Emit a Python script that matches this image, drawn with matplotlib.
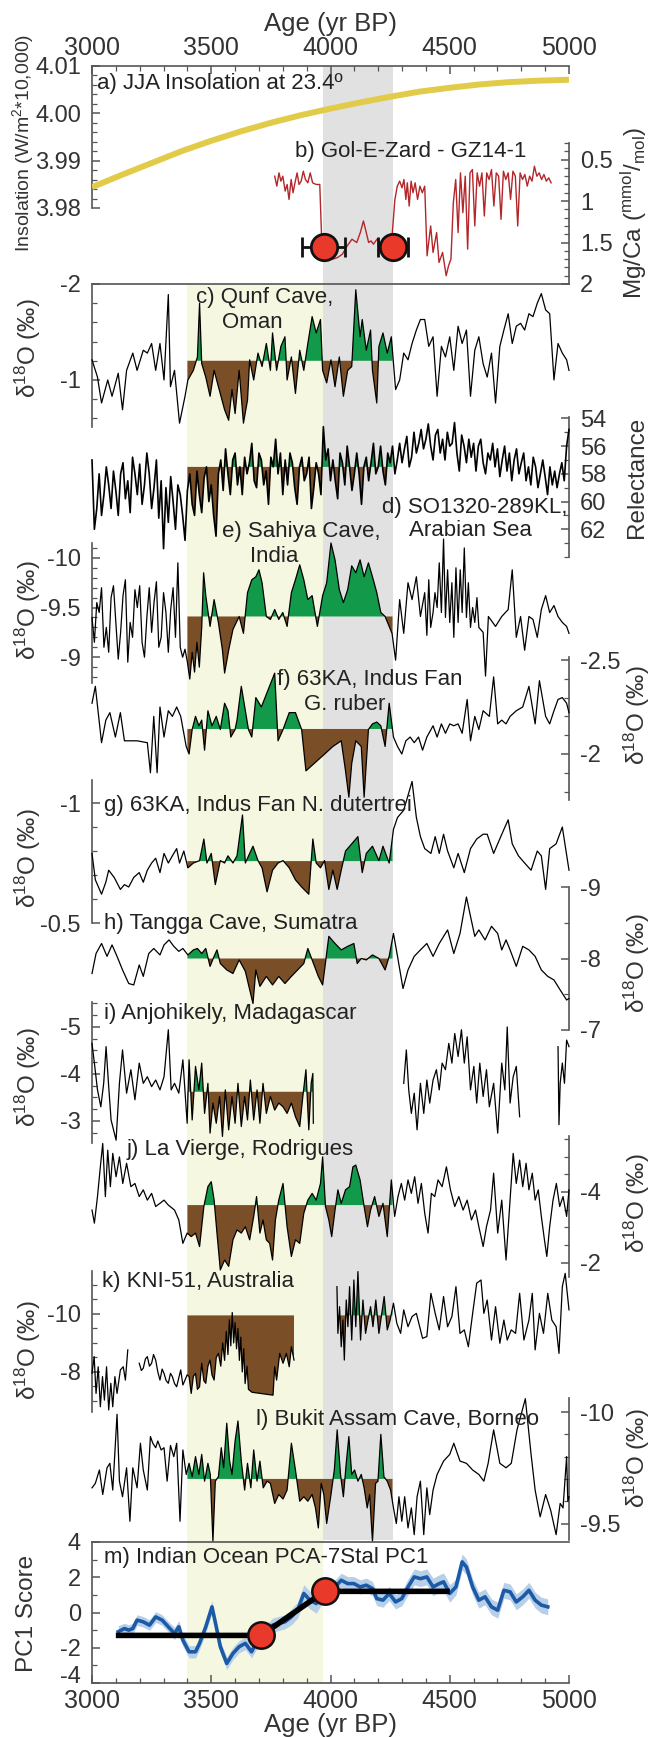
import numpy as np
import matplotlib
matplotlib.use("Agg")
import matplotlib.pyplot as plt
import matplotlib.transforms as mtransforms

plt.rcParams.update({
    "font.family": ["Liberation Sans", "DejaVu Sans"],
    "mathtext.fontset": "custom",
    "mathtext.rm": "Liberation Sans",
    "mathtext.it": "Liberation Sans:italic",
    "mathtext.bf": "Liberation Sans:bold",
    "axes.unicode_minus": False,
})

# ---------------------------------------------------------------- data
insolation = [(3000, 3.9844), (3125, 3.9870), (3250, 3.9895), (3375, 3.9920), (3500, 3.9942),
              (3625, 3.9962), (3750, 3.9980), (3875, 3.9996), (4000, 4.0010), (4125, 4.0023),
              (4250, 4.0035), (4375, 4.0046), (4500, 4.0054), (4625, 4.0061), (4750, 4.0066),
              (4875, 4.0069), (5000, 4.0071)]

mgca = [(3766, 0.70), (3775, 0.82), (3784, 0.66), (3792, 0.76), (3800, 0.70), (3810, 0.88), (3818, 0.80),
        (3826, 0.98), (3835, 0.74), (3843, 0.90), (3851, 0.78), (3860, 0.66), (3868, 0.80), (3877, 0.76),
        (3886, 0.64), (3895, 0.74), (3905, 0.78), (3915, 0.66), (3925, 0.78), (3940, 0.80), (3955, 0.80),
        (3962, 1.38), (3968, 1.54), (3978, 1.68), (3990, 1.70), (4010, 1.70), (4030, 1.68), (4050, 1.64),
        (4070, 1.54), (4090, 1.46), (4110, 1.50), (4125, 1.38), (4138, 1.24), (4150, 1.38), (4160, 1.50),
        (4170, 1.48), (4180, 1.52), (4195, 1.46), (4210, 1.52), (4230, 1.50), (4255, 1.54), (4270, 0.98),
        (4280, 0.82), (4290, 0.76), (4300, 0.84), (4308, 0.74), (4316, 0.98), (4322, 0.78), (4330, 1.06),
        (4338, 0.76), (4346, 0.90), (4355, 0.78), (4365, 0.98), (4375, 0.82), (4385, 0.90), (4395, 0.82),
        (4405, 1.66), (4420, 1.30), (4430, 1.62), (4445, 1.38), (4455, 1.74), (4470, 1.62), (4485, 1.90),
        (4495, 1.78), (4505, 1.70), (4515, 1.02), (4525, 0.74), (4535, 1.38), (4545, 0.66), (4555, 1.14),
        (4565, 0.70), (4575, 1.58), (4585, 0.66), (4595, 0.62), (4605, 1.30), (4615, 0.66), (4625, 0.82),
        (4635, 0.66), (4645, 1.18), (4655, 0.66), (4665, 0.74), (4675, 0.62), (4685, 1.06), (4695, 0.66),
        (4705, 0.70), (4715, 1.22), (4725, 0.64), (4735, 0.74), (4745, 0.66), (4755, 0.98), (4765, 0.64),
        (4775, 0.70), (4785, 1.30), (4795, 0.66), (4805, 0.74), (4815, 0.68), (4825, 0.82), (4835, 0.70),
        (4845, 0.76), (4855, 0.58), (4865, 0.70), (4875, 0.66), (4885, 0.74), (4895, 0.68), (4905, 0.76),
        (4915, 0.72), (4925, 0.78)]
mgca_dates = [3971, 4262]
mgca_date_y = [1.55, 1.55]
mgca_date_err = [90, 63]

qunf = [(3000, -1.21), (3023, -1.03), (3040, -0.76), (3066, -1.00), (3084, -0.83), (3110, -1.07), (3128, -0.69),
        (3145, -1.10), (3171, -1.28), (3189, -1.10), (3215, -1.31), (3232, -1.28), (3250, -1.38), (3267, -1.10),
        (3285, -1.38), (3302, -1.00), (3320, -1.89), (3329, -0.93), (3346, -1.10), (3367, -0.55), (3390, -0.83),
        (3402, -1.00), (3425, -1.10), (3442, -1.24), (3451, -1.80), (3460, -1.17), (3477, -1.03), (3495, -0.83),
        (3512, -1.10), (3530, -0.93), (3556, -0.69), (3573, -0.58), (3587, -0.90), (3600, -0.65), (3617, -1.10),
        (3635, -0.55), (3652, -0.79), (3661, -1.21), (3678, -1.00), (3696, -1.28), (3713, -1.14), (3731, -1.38),
        (3748, -1.10), (3757, -1.49), (3774, -1.10), (3792, -1.35), (3809, -1.45), (3818, -1.00), (3836, -1.24),
        (3853, -0.86), (3871, -1.31), (3888, -1.10), (3905, -1.38), (3923, -1.66), (3940, -1.49), (3958, -1.63),
        (3967, -1.10), (3984, -0.97), (4002, -1.21), (4019, -0.93), (4037, -1.24), (4054, -0.83), (4072, -1.10),
        (4089, -1.14), (4106, -1.94), (4124, -1.45), (4133, -1.63), (4150, -1.31), (4168, -1.52), (4176, -1.10),
        (4194, -0.76), (4203, -1.35), (4220, -1.49), (4238, -1.28), (4255, -1.45), (4273, -0.90), (4290, -1.00),
        (4307, -1.28), (4325, -1.21), (4342, -1.38), (4360, -1.52), (4377, -1.63), (4395, -1.63), (4412, -1.35),
        (4430, -1.45), (4447, -0.83), (4465, -1.35), (4482, -1.24), (4500, -1.45), (4517, -1.10), (4535, -1.56),
        (4552, -1.38), (4570, -1.52), (4587, -0.83), (4605, -1.31), (4622, -1.45), (4640, -1.17), (4657, -1.03),
        (4675, -1.28), (4692, -0.76), (4710, -1.35), (4727, -1.52), (4745, -1.69), (4762, -1.38), (4779, -1.56),
        (4797, -1.59), (4814, -1.52), (4832, -1.69), (4849, -1.66), (4867, -1.80), (4884, -1.90), (4902, -1.73),
        (4919, -1.69), (4937, -1.00), (4954, -1.38), (4972, -1.28), (4990, -1.21), (5000, -1.10)]

# SO130-289KL reflectance, read every 10 yr from 3000 yr BP
refl_start, refl_step = 3000, 10
refl = [57.0, 62.0, 60.5, 58.0, 61.0, 59.5, 57.5, 58.8, 60.5, 57.8, 59.2,
        61.0, 58.0, 57.2, 59.8, 58.5, 60.8, 56.8, 58.0, 59.5, 57.3,
        60.2, 58.8, 56.5, 58.0, 60.5, 59.0, 57.0, 61.2, 58.5, 63.4,
        59.0, 61.5, 58.2, 60.0, 62.0, 58.8, 59.5, 61.0, 62.8, 59.2,
        58.0, 60.2, 61.0, 57.8, 59.5, 60.8, 58.3, 57.5, 60.0, 58.8,
        61.0, 62.5, 58.0, 57.0, 59.2, 56.2, 58.0, 59.5, 57.0, 56.5,
        58.8, 57.5, 59.5, 56.8, 58.0, 57.2, 55.8, 58.5, 59.0, 56.5,
        57.0, 58.8, 57.8, 60.2, 56.8, 57.5, 55.5, 58.0, 56.5, 59.5,
        57.0, 58.8, 56.5, 57.2, 59.0, 60.2, 57.5, 56.8, 58.5, 58.0,
        56.8, 60.5, 59.0, 57.2, 58.0, 59.5, 54.6, 57.0, 56.2, 58.5,
        57.0, 58.5, 59.8, 56.5, 57.2, 58.8, 56.0, 57.5, 59.2, 58.0,
        56.5, 58.0, 60.2, 57.5, 56.8, 58.5, 57.2, 55.8, 58.0, 57.5,
        56.0, 57.8, 58.8, 56.5, 57.2, 56.0, 58.0, 57.0, 55.8, 57.2,
        56.2, 55.3, 57.5, 56.8, 55.0, 56.5, 55.8, 54.8, 56.2, 55.5,
        54.4, 56.0, 57.0, 55.2, 54.8, 56.5, 55.5, 57.0, 55.0, 56.0,
        55.8, 54.3, 56.5, 57.8, 55.2, 56.0, 57.2, 55.5, 56.8, 55.8,
        57.8, 56.0, 55.5, 57.2, 58.0, 56.5, 57.0, 55.8, 57.5, 56.2,
        58.2, 57.0, 56.0, 57.8, 56.5, 58.5, 57.0, 56.2, 58.0, 57.2,
        56.5, 58.5, 57.5, 58.8, 56.8, 57.5, 59.0, 58.0, 57.0, 58.2,
        59.5, 57.5, 58.8, 57.8, 59.0, 58.0, 57.2, 58.5, 56.0, 54.8]

sahiya = [(3000, -9.40), (3010, -9.15), (3020, -9.55), (3030, -9.45), (3040, -9.70), (3050, -9.10), (3060, -9.30),
          (3070, -9.05), (3080, -9.60), (3090, -9.72), (3100, -9.35), (3110, -8.98), (3120, -9.25), (3130, -9.62),
          (3140, -9.78), (3150, -8.95), (3160, -9.35), (3170, -9.20), (3180, -9.68), (3190, -9.50), (3200, -9.72),
          (3210, -9.15), (3220, -9.00), (3230, -9.40), (3240, -9.70), (3250, -9.25), (3260, -9.55), (3270, -9.76),
          (3280, -9.10), (3290, -9.20), (3300, -9.65), (3310, -9.45), (3320, -9.05), (3330, -9.48), (3340, -9.70),
          (3350, -9.20), (3360, -9.95), (3370, -9.10), (3380, -9.00), (3390, -9.08), (3400, -8.95), (3410, -8.78),
          (3420, -9.05), (3430, -8.85), (3440, -9.15), (3450, -8.90), (3460, -9.30), (3468, -9.85), (3477, -9.62),
          (3495, -9.31), (3512, -9.58), (3530, -9.35), (3547, -9.07), (3556, -8.84), (3573, -9.07), (3591, -9.28),
          (3617, -9.41), (3635, -9.24), (3652, -9.65), (3670, -9.78), (3687, -9.81), (3700, -9.88), (3713, -9.75),
          (3731, -9.41), (3748, -9.38), (3766, -9.48), (3783, -9.38), (3800, -9.45), (3818, -9.31), (3836, -9.65),
          (3853, -9.78), (3871, -9.93), (3888, -9.78), (3905, -9.58), (3923, -9.62), (3945, -9.31), (3967, -9.62),
          (3984, -9.75), (4002, -10.15), (4019, -9.98), (4037, -9.68), (4054, -9.55), (4072, -9.68), (4089, -9.92),
          (4106, -9.85), (4124, -9.98), (4141, -9.81), (4159, -9.95), (4176, -9.81), (4194, -9.65), (4211, -9.45),
          (4229, -9.41), (4246, -9.31), (4258, -9.24), (4273, -8.97), (4290, -9.58), (4307, -9.24), (4325, -9.75),
          (4342, -9.58), (4360, -9.81), (4377, -9.41), (4395, -9.65), (4404, -9.22), (4412, -9.78), (4420, -9.30),
          (4430, -9.45), (4438, -9.65), (4447, -9.50), (4456, -9.95), (4465, -9.45), (4474, -10.19), (4482, -9.40),
          (4491, -9.88), (4500, -9.35), (4509, -9.75), (4517, -9.20), (4526, -9.90), (4535, -9.35), (4544, -9.88),
          (4552, -9.45), (4561, -10.10), (4570, -9.40), (4578, -9.75), (4587, -9.30), (4596, -9.50), (4605, -9.35),
          (4614, -9.60), (4622, -9.30), (4640, -9.25), (4650, -8.81), (4662, -9.41), (4692, -9.31), (4718, -9.41),
          (4745, -9.48), (4762, -9.88), (4779, -9.20), (4797, -9.41), (4814, -9.07), (4832, -9.41), (4849, -9.38),
          (4867, -9.20), (4884, -9.48), (4902, -9.62), (4919, -9.45), (4937, -9.52), (4954, -9.41), (4972, -9.35),
          (4990, -9.31), (5000, -9.24)]

ruber = [(3000, -2.27), (3014, -2.36), (3040, -2.06), (3058, -2.18), (3075, -2.22), (3098, -2.09), (3119, -2.22),
         (3136, -2.07), (3189, -2.07), (3232, -2.06), (3245, -1.90), (3259, -2.20), (3273, -1.90), (3285, -2.25),
         (3302, -2.09), (3320, -2.23), (3337, -2.20), (3355, -2.25), (3372, -2.20), (3395, -2.04), (3407, -2.00),
         (3420, -2.13), (3434, -2.20), (3448, -2.15), (3460, -2.18), (3472, -2.02), (3486, -2.23), (3503, -2.15),
         (3521, -2.20), (3538, -2.13), (3556, -2.27), (3570, -2.23), (3582, -2.09), (3600, -2.13), (3608, -2.18),
         (3626, -2.36), (3643, -2.23), (3656, -2.13), (3670, -2.09), (3687, -2.30), (3710, -2.25), (3766, -2.43),
         (3780, -2.07), (3801, -2.13), (3827, -2.22), (3853, -2.22), (3879, -2.13), (3897, -1.91), (3967, -1.99),
         (4010, -2.04), (4045, -2.07), (4063, -1.91), (4077, -1.77), (4089, -1.95), (4106, -2.07), (4129, -2.04),
         (4141, -1.77), (4159, -2.13), (4176, -2.16), (4194, -2.17), (4211, -2.15), (4229, -2.04), (4246, -2.27),
         (4264, -2.09), (4281, -2.04), (4299, -2.00), (4316, -2.07), (4334, -2.09), (4351, -2.06), (4369, -2.09),
         (4386, -2.02), (4404, -2.09), (4430, -2.15), (4447, -2.09), (4465, -2.16), (4482, -2.11), (4500, -2.16),
         (4517, -2.15), (4535, -2.16), (4552, -2.11), (4573, -2.29), (4587, -2.07), (4605, -2.20), (4622, -2.13),
         (4640, -2.23), (4666, -2.20), (4684, -2.41), (4701, -2.16), (4718, -2.18), (4736, -2.16), (4753, -2.20),
         (4779, -2.23), (4806, -2.25), (4832, -2.36), (4858, -2.16), (4876, -2.39), (4902, -2.20), (4919, -2.16),
         (4937, -2.23), (4954, -2.29), (4972, -2.30), (4990, -2.27), (5000, -2.22)]

dutertrei = [(3000, -0.79), (3014, -0.68), (3040, -0.62), (3058, -0.67), (3070, -0.72), (3093, -0.69), (3119, -0.64),
             (3136, -0.66), (3154, -0.65), (3175, -0.69), (3198, -0.71), (3215, -0.67), (3232, -0.72), (3250, -0.75),
             (3267, -0.77), (3285, -0.71), (3302, -0.79), (3320, -0.75), (3337, -0.78), (3355, -0.81), (3367, -0.75),
             (3385, -0.80), (3402, -0.73), (3425, -0.75), (3451, -0.76), (3469, -0.85), (3482, -0.75), (3500, -0.79),
             (3517, -0.66), (3538, -0.76), (3556, -0.75), (3570, -0.78), (3591, -0.75), (3608, -0.78), (3631, -0.95),
             (3643, -0.75), (3661, -0.79), (3675, -0.82), (3696, -0.76), (3713, -0.73), (3734, -0.63), (3757, -0.72),
             (3780, -0.75), (3801, -0.76), (3827, -0.73), (3853, -0.68), (3879, -0.65), (3909, -0.62), (3926, -0.85),
             (3940, -0.75), (3958, -0.73), (3975, -0.76), (3993, -0.64), (4010, -0.72), (4028, -0.64), (4045, -0.72),
             (4063, -0.80), (4089, -0.83), (4115, -0.86), (4133, -0.71), (4150, -0.79), (4176, -0.82), (4203, -0.76),
             (4220, -0.82), (4246, -0.75), (4264, -0.89), (4281, -0.94), (4307, -0.97), (4342, -1.09), (4360, -0.94),
             (4377, -0.86), (4395, -0.81), (4421, -0.79), (4439, -0.86), (4456, -0.79), (4474, -0.87), (4491, -0.80),
             (4517, -0.73), (4535, -0.79), (4561, -0.71), (4587, -0.81), (4613, -0.85), (4640, -0.87), (4657, -0.87),
             (4684, -0.79), (4701, -0.83), (4727, -0.89), (4745, -0.93), (4762, -0.83), (4788, -0.78), (4814, -0.75),
             (4841, -0.72), (4867, -0.80), (4884, -0.78), (4902, -0.64), (4919, -0.81), (4946, -0.83), (4972, -0.90),
             (5000, -0.72)]

tangga = [(3000, -7.79), (3017, -8.07), (3040, -8.21), (3063, -8.03), (3084, -8.19), (3105, -8.03), (3128, -7.84),
          (3154, -7.65), (3175, -7.63), (3198, -7.91), (3215, -7.75), (3238, -8.07), (3259, -8.14), (3285, -8.05),
          (3302, -8.19), (3323, -8.26), (3343, -8.17), (3364, -8.10), (3381, -8.14), (3402, -8.05), (3425, -8.12),
          (3442, -8.14), (3460, -8.07), (3477, -8.14), (3495, -7.89), (3512, -8.03), (3524, -8.12), (3538, -7.93),
          (3565, -7.84), (3591, -7.79), (3617, -7.98), (3643, -7.82), (3675, -7.37), (3687, -7.84), (3704, -7.61),
          (3731, -7.75), (3757, -7.63), (3783, -7.75), (3809, -7.65), (3836, -7.75), (3862, -7.84), (3888, -7.93),
          (3905, -8.14), (3923, -7.98), (3949, -7.75), (3967, -7.63), (3993, -8.31), (4019, -8.21), (4045, -8.12),
          (4072, -8.17), (4098, -8.21), (4112, -7.93), (4129, -8.00), (4150, -7.98), (4176, -8.05), (4203, -8.00),
          (4229, -7.84), (4246, -8.03), (4264, -8.35), (4281, -8.03), (4304, -7.58), (4325, -7.84), (4351, -8.03),
          (4377, -8.12), (4404, -8.21), (4430, -8.03), (4456, -8.21), (4491, -8.40), (4517, -8.07), (4543, -8.35),
          (4570, -8.86), (4587, -8.59), (4605, -8.31), (4622, -8.40), (4648, -8.26), (4675, -8.45), (4701, -8.35),
          (4718, -8.12), (4736, -8.26), (4753, -8.12), (4779, -7.89), (4806, -8.17), (4832, -8.12), (4858, -8.03),
          (4884, -7.84), (4911, -7.75), (4937, -7.70), (4963, -7.56), (4990, -7.42), (5000, -7.44)]

anjo_1 = [(3000, -4.65), (3010, -4.23), (3023, -3.66), (3037, -3.30), (3049, -3.80), (3059, -4.58), (3070, -3.73),
          (3080, -3.02), (3101, -2.59), (3115, -3.80), (3128, -4.51), (3145, -3.59), (3163, -4.09), (3180, -3.45),
          (3198, -4.23), (3215, -3.80), (3232, -3.94), (3250, -3.73), (3267, -3.87), (3285, -3.66), (3302, -3.94),
          (3320, -4.94), (3332, -3.66), (3346, -3.80), (3364, -3.59), (3381, -4.30), (3399, -2.95), (3407, -4.30),
          (3420, -3.02), (3434, -4.16), (3448, -3.66), (3460, -4.23), (3472, -3.16), (3486, -3.80), (3495, -2.74),
          (3507, -3.38), (3521, -2.95), (3535, -3.52), (3547, -2.67), (3559, -3.66), (3573, -2.81), (3587, -3.52),
          (3600, -2.95), (3612, -3.80), (3626, -2.88), (3640, -3.52), (3652, -3.02), (3664, -3.87), (3678, -3.02),
          (3692, -3.66), (3704, -2.95), (3717, -3.80), (3731, -3.16), (3748, -3.52), (3766, -3.23), (3783, -3.38),
          (3801, -3.30), (3818, -3.16), (3836, -3.38), (3853, -3.09), (3871, -2.88), (3884, -3.52), (3897, -4.09),
          (3909, -2.81), (3919, -3.80), (3926, -4.01), (3928, -2.95)]
anjo_2 = [(4307, -3.80), (4318, -4.51), (4328, -3.66), (4339, -3.16), (4351, -3.59), (4363, -2.81), (4377, -3.80),
          (4391, -3.16), (4404, -3.87), (4416, -3.38), (4430, -3.87), (4444, -4.09), (4456, -3.66), (4468, -4.23),
          (4482, -4.09), (4496, -4.65), (4509, -4.23), (4521, -4.86), (4535, -4.37), (4549, -4.94), (4561, -4.23),
          (4573, -4.79), (4587, -3.66), (4601, -4.16), (4613, -3.38), (4626, -4.23), (4640, -3.52), (4654, -4.09),
          (4666, -3.30), (4684, -3.80), (4701, -2.74), (4718, -4.23), (4731, -3.66), (4741, -5.00), (4753, -3.38),
          (4766, -3.94), (4779, -4.16), (4793, -3.09)]
anjo_3 = [(4954, -4.58), (4958, -2.92), (4963, -3.80), (4972, -4.23), (4981, -3.80), (4990, -4.72), (5000, -4.58)]

vierge = [(3000, -3.49), (3010, -3.12), (3023, -3.87), (3035, -4.71), (3045, -5.37), (3056, -3.87), (3066, -5.18),
          (3077, -4.15), (3087, -5.09), (3101, -4.43), (3115, -4.99), (3129, -4.24), (3145, -4.81), (3163, -4.15),
          (3180, -4.24), (3198, -3.87), (3215, -4.06), (3232, -3.77), (3250, -3.96), (3267, -3.59), (3285, -3.68),
          (3302, -3.77), (3320, -3.63), (3346, -3.49), (3364, -3.21), (3381, -2.55), (3399, -2.84), (3416, -2.74),
          (3434, -2.84), (3451, -2.46), (3469, -3.59), (3486, -4.15), (3500, -4.29), (3512, -3.77), (3524, -2.84),
          (3538, -1.80), (3556, -2.08), (3573, -1.90), (3591, -2.65), (3608, -2.93), (3626, -2.84), (3643, -3.02),
          (3661, -2.65), (3678, -3.31), (3690, -3.87), (3704, -2.84), (3717, -3.21), (3731, -2.65), (3745, -2.55),
          (3757, -2.08), (3769, -3.21), (3783, -3.77), (3801, -4.24), (3818, -3.02), (3836, -2.18), (3853, -2.65),
          (3871, -2.55), (3888, -3.40), (3905, -3.77), (3923, -3.96), (3940, -3.77), (3958, -4.24), (3967, -4.99),
          (3979, -3.59), (3993, -3.21), (4005, -2.74), (4019, -3.49), (4031, -4.06), (4045, -3.68), (4063, -4.06),
          (4080, -4.15), (4094, -4.71), (4106, -4.76), (4124, -4.34), (4141, -3.59), (4155, -3.02), (4168, -3.49),
          (4185, -3.87), (4203, -3.31), (4220, -3.68), (4238, -2.74), (4255, -4.34), (4269, -3.31), (4283, -3.87),
          (4297, -4.24), (4311, -3.77), (4325, -4.34), (4339, -3.96), (4353, -4.43), (4367, -3.68), (4381, -4.24),
          (4395, -3.40), (4409, -2.84), (4423, -3.96), (4437, -3.87), (4451, -4.34), (4468, -4.15), (4486, -4.71),
          (4503, -4.06), (4521, -3.59), (4538, -3.87), (4556, -3.49), (4573, -3.77), (4591, -3.21), (4608, -3.49),
          (4622, -3.02), (4640, -2.46), (4654, -3.02), (4671, -3.49), (4684, -4.53), (4701, -2.84), (4718, -3.77),
          (4736, -2.08), (4753, -3.77), (4766, -5.09), (4779, -4.24), (4793, -4.90), (4806, -4.15), (4820, -4.81),
          (4832, -4.06), (4846, -4.53), (4858, -3.77), (4871, -4.06), (4884, -3.31), (4897, -2.65), (4907, -2.18),
          (4919, -3.02), (4933, -3.77), (4947, -4.24), (4961, -3.59), (4975, -3.87), (4990, -3.31), (5000, -4.06)]

kni_1 = [(3000, -7.95), (3009, -8.53), (3017, -7.26), (3026, -8.18), (3035, -6.80), (3044, -7.84), (3052, -7.03),
         (3061, -8.18), (3070, -6.69), (3079, -7.61), (3087, -6.80), (3096, -7.84), (3105, -7.26), (3119, -8.07),
         (3131, -8.18), (3140, -7.72), (3150, -8.76)]
kni_2 = [(3198, -8.30), (3207, -8.05), (3215, -8.13), (3224, -8.45), (3232, -8.53), (3241, -8.20), (3250, -8.30),
         (3258, -8.60), (3267, -8.41), (3276, -8.00), (3285, -7.72), (3294, -8.10), (3302, -7.95), (3311, -7.70),
         (3320, -7.61), (3329, -7.95), (3337, -7.84), (3346, -7.60), (3355, -7.49), (3364, -7.80), (3372, -8.07),
         (3381, -7.55), (3390, -7.72), (3399, -7.90), (3407, -7.84), (3416, -7.26), (3425, -7.85), (3434, -7.95),
         (3442, -7.40), (3451, -7.49), (3460, -8.30), (3469, -7.70), (3477, -7.61), (3486, -8.20), (3495, -8.41),
         (3503, -7.90), (3512, -7.72), (3521, -8.50), (3530, -8.64), (3540, -8.20), (3548, -9.00), (3556, -8.40),
         (3563, -9.40), (3570, -8.60), (3576, -9.80), (3582, -8.90), (3588, -10.05), (3594, -9.00), (3600, -9.70),
         (3606, -8.80), (3612, -9.50), (3618, -8.40), (3624, -9.20), (3630, -8.00), (3636, -8.80), (3642, -7.60),
         (3650, -8.20), (3656, -7.40), (3671, -7.30), (3759, -7.20), (3766, -8.18), (3774, -7.72), (3787, -8.64),
         (3801, -8.30), (3815, -8.64), (3827, -8.18), (3836, -8.87), (3847, -8.41)]
kni_3 = [(4027, -10.94), (4031, -9.33), (4038, -10.25), (4045, -8.87), (4052, -9.79), (4058, -8.41), (4066, -10.48),
         (4073, -9.56), (4080, -10.94), (4089, -9.10), (4098, -11.17), (4106, -9.56), (4115, -11.46), (4126, -9.10),
         (4136, -10.48), (4147, -9.33), (4157, -9.79), (4168, -10.25), (4178, -9.56), (4190, -10.48), (4203, -9.33),
         (4215, -10.02), (4225, -10.60), (4238, -9.45), (4250, -9.79), (4264, -10.37), (4278, -9.68), (4294, -9.33),
         (4307, -10.14), (4325, -9.56), (4342, -9.91), (4360, -10.02), (4386, -9.16), (4404, -9.22), (4421, -10.71),
         (4439, -10.02), (4456, -9.45), (4474, -10.60), (4491, -9.56), (4509, -9.91), (4526, -10.94), (4543, -9.33),
         (4561, -9.45), (4578, -8.87), (4596, -10.02), (4613, -11.06), (4631, -11.17), (4643, -10.02), (4657, -10.48),
         (4675, -9.10), (4692, -10.25), (4710, -8.99), (4727, -9.79), (4741, -9.10), (4758, -9.45), (4776, -9.33),
         (4793, -10.71), (4811, -9.10), (4832, -9.79), (4846, -10.71), (4858, -8.76), (4876, -10.02), (4893, -9.33),
         (4911, -10.71), (4928, -9.79), (4946, -9.56), (4958, -8.64), (4972, -10.94), (4984, -11.40), (5000, -10.14)]

bukit = [(3000, -9.66), (3014, -9.68), (3031, -9.74), (3045, -9.63), (3063, -9.75), (3075, -9.77), (3087, -9.65),
         (3105, -9.99), (3115, -9.69), (3128, -9.62), (3145, -9.75), (3159, -9.51), (3171, -9.75), (3189, -9.66),
         (3203, -9.86), (3215, -9.74), (3232, -9.65), (3245, -9.89), (3255, -9.86), (3267, -9.84), (3276, -9.87),
         (3290, -9.83), (3302, -9.84), (3315, -9.69), (3329, -9.85), (3343, -9.80), (3355, -9.86), (3369, -9.51),
         (3381, -9.83), (3395, -9.72), (3407, -9.77), (3420, -9.71), (3434, -9.80), (3448, -9.72), (3460, -9.81),
         (3472, -9.69), (3486, -9.77), (3496, -9.72), (3507, -9.42), (3517, -9.69), (3530, -9.71), (3542, -9.84),
         (3552, -9.75), (3565, -9.95), (3577, -9.78), (3587, -9.72), (3600, -9.87), (3612, -9.96), (3626, -9.78),
         (3640, -9.65), (3652, -9.77), (3666, -9.66), (3678, -9.83), (3692, -9.69), (3704, -9.78), (3718, -9.66),
         (3734, -9.69), (3748, -9.68), (3766, -9.59), (3783, -9.63), (3801, -9.61), (3818, -9.65), (3836, -9.86),
         (3853, -9.74), (3871, -9.60), (3888, -9.62), (3905, -9.60), (3923, -9.63), (3937, -9.57), (3949, -9.48),
         (3961, -9.68), (3972, -9.63), (3984, -9.50), (4002, -9.63), (4016, -9.74), (4028, -9.92), (4042, -9.72),
         (4054, -9.62), (4066, -9.77), (4077, -9.89), (4089, -9.72), (4101, -9.74), (4115, -9.69), (4129, -9.72),
         (4141, -9.66), (4154, -9.57), (4164, -9.63), (4176, -9.42), (4189, -9.68), (4199, -9.69), (4211, -9.90),
         (4224, -9.71), (4238, -9.69), (4252, -9.65), (4264, -9.57), (4276, -9.50), (4287, -9.62), (4299, -9.51),
         (4311, -9.62), (4325, -9.48), (4339, -9.57), (4351, -9.45), (4363, -9.62), (4377, -9.69), (4391, -9.45),
         (4404, -9.66), (4416, -9.54), (4430, -9.65), (4447, -9.72), (4474, -9.78), (4500, -9.81), (4517, -9.86),
         (4543, -9.78), (4570, -9.77), (4596, -9.74), (4622, -9.72), (4643, -9.69), (4661, -9.77), (4684, -9.92),
         (4710, -9.77), (4736, -9.75), (4758, -9.77), (4782, -9.92), (4817, -10.06), (4841, -9.81), (4858, -9.65),
         (4879, -9.53), (4902, -9.63), (4923, -9.56), (4946, -9.45), (4963, -9.59), (4975, -9.57), (4990, -9.80),
         (4995, -9.60), (5000, -9.62)]

pc1 = [(3110, -1.09, 0.35), (3136, -0.91, 0.3), (3154, -1.00, 0.3), (3171, -0.91, 0.3), (3189, -0.43, 0.3),
       (3215, -0.53, 0.3), (3241, -0.72, 0.3), (3267, -0.25, 0.3), (3294, -0.43, 0.3), (3320, -0.81, 0.3),
       (3346, -1.19, 0.35), (3364, -0.81, 0.35), (3381, -1.57, 0.35), (3407, -2.23, 0.35), (3434, -2.23, 0.35),
       (3451, -1.75, 0.35), (3477, -0.81, 0.35), (3503, 0.32, 0.35), (3521, -0.81, 0.35), (3538, -1.94, 0.35),
       (3565, -2.89, 0.35), (3591, -2.32, 0.35), (3617, -1.94, 0.35), (3643, -1.75, 0.35), (3669, -2.23, 0.35),
       (3687, -1.75, 0.4), (3704, -1.38, 0.4), (3731, -1.09, 0.4), (3757, -0.72, 0.4), (3783, -0.62, 0.4),
       (3809, -0.53, 0.4), (3836, -0.25, 0.45), (3862, 0.13, 0.45), (3888, 1.08, 0.5), (3914, 0.70, 0.5),
       (3940, 0.51, 0.55), (3967, 1.08, 0.5), (3993, 1.55, 0.45), (4019, 1.45, 0.4), (4045, 1.83, 0.4),
       (4072, 1.64, 0.4), (4098, 1.64, 0.4), (4124, 1.45, 0.4), (4150, 1.55, 0.4), (4176, 1.36, 0.4),
       (4194, 0.79, 0.4), (4220, 0.70, 0.4), (4246, 1.08, 0.4), (4273, 0.60, 0.4), (4299, 0.79, 0.4),
       (4325, 1.45, 0.45), (4351, 2.02, 0.45), (4377, 1.92, 0.45), (4404, 2.02, 0.45), (4430, 1.45, 0.5),
       (4456, 1.64, 0.5), (4474, 1.74, 0.5), (4500, 1.08, 0.5), (4526, 1.45, 0.45), (4552, 2.87, 0.45),
       (4570, 2.58, 0.45), (4596, 1.45, 0.45), (4622, 0.70, 0.45), (4648, 0.89, 0.45), (4675, 0.32, 0.45),
       (4701, 0.13, 0.45), (4727, 1.26, 0.45), (4753, 1.17, 0.45), (4779, 0.60, 0.45), (4806, 0.89, 0.45),
       (4832, 1.26, 0.45), (4858, 0.70, 0.45), (4884, 0.42, 0.45), (4911, 0.32, 0.45)]
pc1_trend_age = [3100, 3710, 3975, 4500]
pc1_trend_val = [-1.3, -1.3, 1.2, 1.2]
pc1_break_age = [3710, 3975]
pc1_break_val = [-1.3, 1.2]
pc1_break_err = [45, 45]

# baselines for anomaly shading
base_qunf, base_refl, base_sahiya, base_ruber = -1.20, 57.5, -9.41, -2.133
base_dut, base_tangga, base_anjo, base_vierge = -0.758, -8.0, -3.62, -3.63
base_kni, base_bukit = -9.95, -9.70
event_start, event_mid, event_end = 3400, 3970, 4260

# ---------------------------------------------------------------- styling
W, H, DPI = 653, 1737, 100
X0, X1 = 92, 569
TXT = "#333333"
SP = "#555555"
GREEN = "#12994a"
BROWN = "#7a4e27"
YELLOW = "#f5f7e1"
GRAY = "#e1e1e1"
RED = "#e8392a"
TICK_FS, LAB_FS, PAN_FS = 17, 17.5, 16

fig = plt.figure(figsize=(W / DPI, H / DPI), dpi=DPI)


def rect(top, bottom):
    return [X0 / W, 1 - bottom / H, (X1 - X0) / W, (bottom - top) / H]


def ftext(x, y, s, **kw):
    kw.setdefault("va", "center")
    kw.setdefault("color", "#222222")
    fig.text(x / W, 1 - y / H, s, **kw)


def unzip(pairs):
    a = np.array(pairs, dtype=float)
    return a[:, 0], a[:, 1]


bg = fig.add_axes(rect(66, 1683))
bg.set_xlim(3000, 5000)
bg.set_ylim(0, 1)
bg.axis("off")
bg.axvspan(event_start, event_mid, ymin=0, ymax=(1683 - 284) / (1683 - 66), color=YELLOW, lw=0)
bg.axvspan(event_mid, event_end, ymin=(1683 - 1540) / (1683 - 66), ymax=1, color=GRAY, lw=0)


def panel(top, bottom, ylim, side, ticks, labels, minor_step):
    ax = fig.add_axes(rect(top, bottom))
    ax.set_xlim(3000, 5000)
    ax.set_ylim(*ylim)
    ax.patch.set_visible(False)
    for s in ax.spines.values():
        s.set_visible(False)
    ax.spines[side].set_visible(True)
    ax.spines[side].set_color(SP)
    ax.spines[side].set_linewidth(1.2)
    ax.tick_params(axis="x", which="both", bottom=False, top=False, labelbottom=False, labeltop=False)
    if side == "right":
        ax.yaxis.tick_right()
    else:
        ax.yaxis.tick_left()
    ax.set_yticks(ticks)
    ax.set_yticklabels(labels)
    lo, hi = min(ylim), max(ylim)
    mn = np.arange(np.ceil(lo / minor_step - 1e-6) * minor_step, hi + 1e-9, minor_step)
    ax.set_yticks(mn, minor=True)
    ax.tick_params(axis="y", which="major", direction="in", length=6, width=1.1, color=SP,
                   labelsize=TICK_FS, labelcolor=TXT, pad=8)
    ax.tick_params(axis="y", which="minor", direction="in", length=3.5, width=0.9, color=SP)
    return ax


def anomaly(ax, age, val, base, x0, x1):
    xs_in = (age > x0) & (age < x1)
    xs = np.concatenate([[x0], age[xs_in], [x1]])
    ys = np.concatenate([[np.interp(x0, age, val)], val[xs_in], [np.interp(x1, age, val)]])
    ax.fill_between(xs, ys, base, where=ys <= base, interpolate=True, color=GREEN, lw=0, zorder=2)
    ax.fill_between(xs, ys, base, where=ys >= base, interpolate=True, color=BROWN, lw=0, zorder=2)


def trace(ax, age, val, **kw):
    kw.setdefault("color", "black")
    kw.setdefault("lw", 0.9)
    ax.plot(age, val, zorder=3, clip_on=False, **kw)


# ---- a) insolation
ax = panel(66, 208, (3.98, 4.0096), "left", [3.98, 3.99, 4.00, 4.01], ["3.98", "3.99", "4.00", "4.01"], 0.002)
ax.spines["top"].set_visible(True)
ax.spines["top"].set_color(SP)
ax.spines["top"].set_linewidth(1.2)
ax.xaxis.tick_top()
ax.set_xticks([3000, 3500, 4000, 4500, 5000])
ax.set_xticklabels(["3000", "3500", "4000", "4500", "5000"])
ax.set_xticks(np.arange(3000, 5001, 100), minor=True)
ax.tick_params(axis="x", which="major", top=True, labeltop=True, direction="in", length=6, width=1.1,
               color=SP, labelsize=TICK_FS + 1, labelcolor=TXT, pad=4)
ax.tick_params(axis="x", which="minor", top=True, direction="in", length=3.5, width=0.9, color=SP)
a_x, a_y = unzip(insolation)
ax.plot(a_x, a_y, color="#e2cb48", lw=4.3, solid_capstyle="butt", zorder=3)

# ---- b) Mg/Ca
ax = panel(143, 284, (2.0, 0.3), "right", [0.5, 1, 1.5, 2], ["0.5", "1", "1.5", "2"], 0.1)
ax.spines["bottom"].set_visible(True)
ax.spines["bottom"].set_color(SP)
ax.spines["bottom"].set_linewidth(1.2)
b_x, b_y = unzip(mgca)
trace(ax, b_x, b_y, color="#b3262a", lw=1.0)
ax.errorbar(mgca_dates, mgca_date_y, xerr=mgca_date_err, fmt="o", ms=19, mfc=RED, mec="#111111", mew=2,
            ecolor="#111111", elinewidth=2, capsize=7, capthick=2.5, zorder=5, clip_on=False)

# ---- c) Qunf
ax = panel(284, 427, (-0.51, -2.0), "left", [-2, -1], ["-2", "-1"], 0.2)
c_x, c_y = unzip(qunf)
anomaly(ax, c_x, c_y, base_qunf, event_start, event_end)
trace(ax, c_x, c_y)

# ---- d) reflectance
ax = panel(417, 557, (64.0, 53.9), "right", [54, 56, 58, 60, 62], ["54", "56", "58", "60", "62"], 1)
d_y = np.array(refl, dtype=float)
d_x = refl_start + refl_step * np.arange(len(d_y))
anomaly(ax, d_x, d_y, base_refl, event_start, event_end)
trace(ax, d_x, d_y, lw=1.2)

# ---- e) Sahiya
ax = panel(543, 683, (-8.74, -10.15), "left", [-10, -9.5, -9], ["-10", "-9.5", "-9"], 0.1)
e_x, e_y = unzip(sahiya)
anomaly(ax, e_x, e_y, base_sahiya, event_start, event_end)
trace(ax, e_x, e_y)

# ---- f) G. ruber
ax = panel(657, 800, (-1.755, -2.516), "right", [-2.5, -2], ["-2.5", "-2"], 0.1)
f_x, f_y = unzip(ruber)
anomaly(ax, f_x, f_y, base_ruber, event_start, event_end)
trace(ax, f_x, f_y)

# ---- g) N. dutertrei
ax = panel(780, 923, (-0.5, -1.096), "left", [-1, -0.5], ["-1", "-0.5"], 0.1)
g_x, g_y = unzip(dutertrei)
anomaly(ax, g_x, g_y, base_dut, event_start, event_end)
trace(ax, g_x, g_y)

# ---- h) Tangga
ax = panel(887, 1030, (-7.0, -9.0), "right", [-9, -8, -7], ["-9", "-8", "-7"], 0.5)
h_x, h_y = unzip(tangga)
anomaly(ax, h_x, h_y, base_tangga, event_start, event_end)
trace(ax, h_x, h_y)

# ---- i) Anjohikely
ax = panel(1002, 1143, (-2.53, -5.53), "left", [-5, -4, -3], ["-5", "-4", "-3"], 0.25)
for seg in (anjo_1, anjo_2, anjo_3):
    sx, sy = unzip(seg)
    if sx[0] < event_mid:
        anomaly(ax, sx, sy, base_anjo, event_start, sx[-1])
    trace(ax, sx, sy)

# ---- j) La Vierge
ax = panel(1136, 1277, (-1.6, -5.58), "right", [-4, -2], ["-4", "-2"], 0.5)
j_x, j_y = unzip(vierge)
anomaly(ax, j_x, j_y, base_vierge, event_start, event_end)
trace(ax, j_x, j_y)

# ---- k) KNI-51
ax = panel(1271, 1412, (-6.62, -11.48), "left", [-10, -8], ["-10", "-8"], 0.5)
for seg in (kni_1, kni_2, kni_3):
    sx, sy = unzip(seg)
    if sx[-1] > event_start and sx[0] < event_end:
        anomaly(ax, sx, sy, base_kni, max(event_start, sx[0]), min(event_end, sx[-1]))
    trace(ax, sx, sy)

# ---- l) Bukit Assam
ax = panel(1398, 1540, (-9.426, -10.063), "right", [-10, -9.5], ["-10", "-9.5"], 0.1)
l_x, l_y = unzip(bukit)
anomaly(ax, l_x, l_y, base_bukit, event_start, event_end)
trace(ax, l_x, l_y)

# ---- m) PC1
ax = panel(1542, 1683, (-4, 4), "left", [-4, -2, 0, 2, 4], ["-4", "-2", "0", "2", "4"], 1)
for s in ("top", "bottom"):
    ax.spines[s].set_visible(True)
    ax.spines[s].set_color(SP)
    ax.spines[s].set_linewidth(1.2)
ax.set_xticks([3000, 3500, 4000, 4500, 5000])
ax.set_xticklabels(["3000", "3500", "4000", "4500", "5000"])
ax.set_xticks(np.arange(3000, 5001, 100), minor=True)
ax.tick_params(axis="x", which="major", bottom=True, labelbottom=True, direction="in", length=6, width=1.1,
               color=SP, labelsize=TICK_FS + 1, labelcolor=TXT, pad=4)
ax.tick_params(axis="x", which="minor", bottom=True, direction="in", length=3.5, width=0.9, color=SP)
# lift the lowest y label a little so it clears the "3000" label below it
lift = mtransforms.ScaledTranslation(0, 6 / 72, fig.dpi_scale_trans)
low_lab = ax.get_yticklabels()[0]
low_lab.set_transform(low_lab.get_transform() + lift)
pc = np.array(pc1, dtype=float)
ax.fill_between(pc[:, 0], pc[:, 1] - pc[:, 2], pc[:, 1] + pc[:, 2], color="#b8cfe8", lw=0, zorder=2)
ax.plot(pc[:, 0], pc[:, 1], color="#1b5aa6", lw=2.6, zorder=3)
ax.plot(pc1_trend_age, pc1_trend_val, color="black", lw=4, solid_capstyle="butt", zorder=4)
ax.errorbar(pc1_break_age, pc1_break_val, xerr=pc1_break_err, fmt="o", ms=19, mfc=RED, mec="#111111",
            mew=1.8, ecolor=RED, elinewidth=1.5, capsize=0, zorder=5)

# ---------------------------------------------------------------- text
ftext(330, 24, "Age (yr BP)", ha="center", fontsize=LAB_FS + 1, color=TXT)
ftext(330, 1725, "Age (yr BP)", ha="center", fontsize=LAB_FS + 1, color=TXT)

d18 = "δ$^{18}$O (‰)"
ftext(23, 143, "Insolation (W/m$^2$*10,000)", ha="center", rotation=90, fontsize=14, color=TXT)
ftext(634, 213, "Mg/Ca ($^{\\mathrm{mmol}}/_{\\mathrm{mol}}$)", ha="center", rotation=90, fontsize=LAB_FS, color=TXT)
ftext(28, 348, d18, ha="center", rotation=90, fontsize=LAB_FS, color=TXT)
ftext(637, 477, "Relectance", ha="center", rotation=90, fontsize=LAB_FS, color=TXT)
ftext(28, 610, d18, ha="center", rotation=90, fontsize=LAB_FS, color=TXT)
ftext(637, 715, d18, ha="center", rotation=90, fontsize=LAB_FS, color=TXT)
ftext(28, 858, d18, ha="center", rotation=90, fontsize=LAB_FS, color=TXT)
ftext(637, 963, d18, ha="center", rotation=90, fontsize=LAB_FS, color=TXT)
ftext(28, 1077, d18, ha="center", rotation=90, fontsize=LAB_FS, color=TXT)
ftext(637, 1203, d18, ha="center", rotation=90, fontsize=LAB_FS, color=TXT)
ftext(28, 1350, d18, ha="center", rotation=90, fontsize=LAB_FS, color=TXT)
ftext(637, 1458, d18, ha="center", rotation=90, fontsize=LAB_FS, color=TXT)
ftext(27, 1613, "PC1 Score", ha="center", rotation=90, fontsize=LAB_FS, color=TXT)

ftext(97, 84, "a) JJA Insolation at 23.4º", ha="left", fontsize=PAN_FS)
ftext(411, 152, "b) Gol-E-Zard - GZ14-1", ha="center", fontsize=PAN_FS)
ftext(265, 297, "c) Qunf Cave,", ha="center", fontsize=PAN_FS)
ftext(252, 322, "Oman", ha="center", fontsize=PAN_FS)
ftext(475, 507, "d) SO1320-289KL,", ha="center", fontsize=PAN_FS)
ftext(470, 531, "Arabian Sea", ha="center", fontsize=PAN_FS)
ftext(301, 532, "e) Sahiya Cave,", ha="center", fontsize=PAN_FS)
ftext(274, 556, "India", ha="center", fontsize=PAN_FS)
ftext(370, 680, "f) 63KA, Indus Fan", ha="center", fontsize=PAN_FS)
ftext(345, 704, "G. ruber", ha="center", fontsize=PAN_FS)
ftext(104, 805, "g) 63KA, Indus Fan N. dutertrei", ha="left", fontsize=PAN_FS)
ftext(104, 923, "h) Tangga Cave, Sumatra", ha="left", fontsize=PAN_FS)
ftext(104, 1013, "i) Anjohikely, Madagascar", ha="left", fontsize=PAN_FS)
ftext(127, 1150, "j) La Vierge, Rodrigues", ha="left", fontsize=PAN_FS)
ftext(102, 1282, "k) KNI-51, Australia", ha="left", fontsize=PAN_FS)
ftext(256, 1419, "l) Bukit Assam Cave, Borneo", ha="left", fontsize=PAN_FS)
ftext(104, 1557, "m) Indian Ocean PCA-7Stal PC1", ha="left", fontsize=PAN_FS)

fig.savefig("out.png", dpi=DPI)
